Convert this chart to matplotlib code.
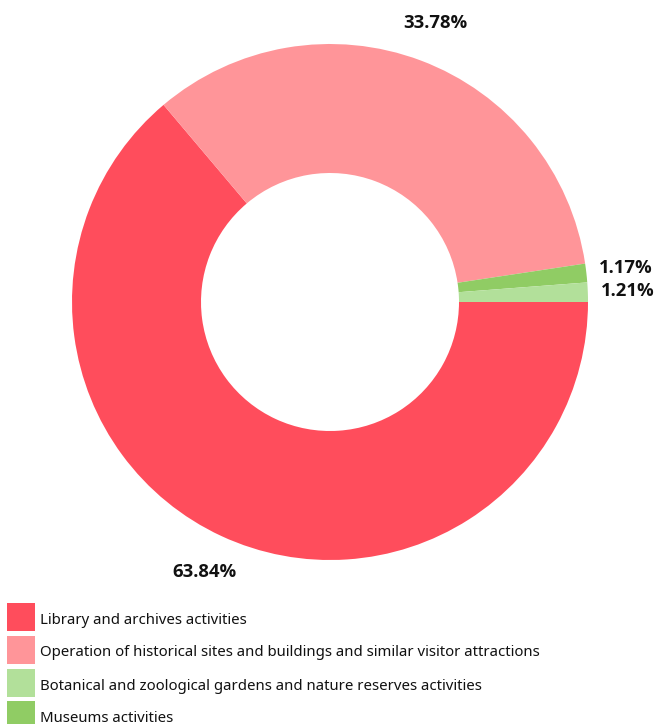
import matplotlib
matplotlib.use("Agg")
import matplotlib.pyplot as plt
from matplotlib.patches import Rectangle

categories = [
    "Library and archives activities",
    "Operation of historical sites and buildings and similar visitor attractions",
    "Botanical and zoological gardens and nature reserves activities",
    "Museums activities",
]
values = [63.84, 33.78, 1.21, 1.17]
colors = ["#FF4D5C", "#FF9599", "#B2E09A", "#90CC64"]

# drawing order (clockwise from 3 o'clock)
draw_order = [0, 1, 3, 2]

W, H = 654, 724
fig = plt.figure(figsize=(W / 100, H / 100), dpi=100)
cx, cy, R = 330, 302, 258
ax = fig.add_axes([(cx - R) / W, (H - cy - R) / H, 2 * R / W, 2 * R / H])

wedges, texts, autotexts = ax.pie(
    [values[i] for i in draw_order],
    colors=[colors[i] for i in draw_order],
    startangle=0,
    counterclock=False,
    radius=1,
    wedgeprops=dict(width=0.5, linewidth=0),
    autopct=lambda p: f"{p:.2f}%",
    pctdistance=1.155,
)
ax.set_xlim(-1, 1)
ax.set_ylim(-1, 1)
ax.set_aspect("equal")
ax.axis("off")
for i, t in zip(draw_order, autotexts):
    t.set_text(f"{values[i]:.2f}%")
    t.set_fontsize(13.3)
    t.set_fontweight("bold")
    t.set_family("Open Sans")
    t.set_color("#111111")
    t.set_clip_on(False)

# legend
row_top = [603, 636, 669, 701]
for k in range(len(categories)):
    y0 = row_top[k]
    fig.patches.append(Rectangle((7 / W, 1 - (y0 + 28) / H), 28 / W, 28 / H,
                                 transform=fig.transFigure, color=colors[k], lw=0))
    fig.text(40 / W, 1 - (y0 + 17) / H, categories[k], fontsize=10.75,
             family="Noto Sans", va="center", ha="left", color="#111111")

fig.savefig("out.png", dpi=100)
